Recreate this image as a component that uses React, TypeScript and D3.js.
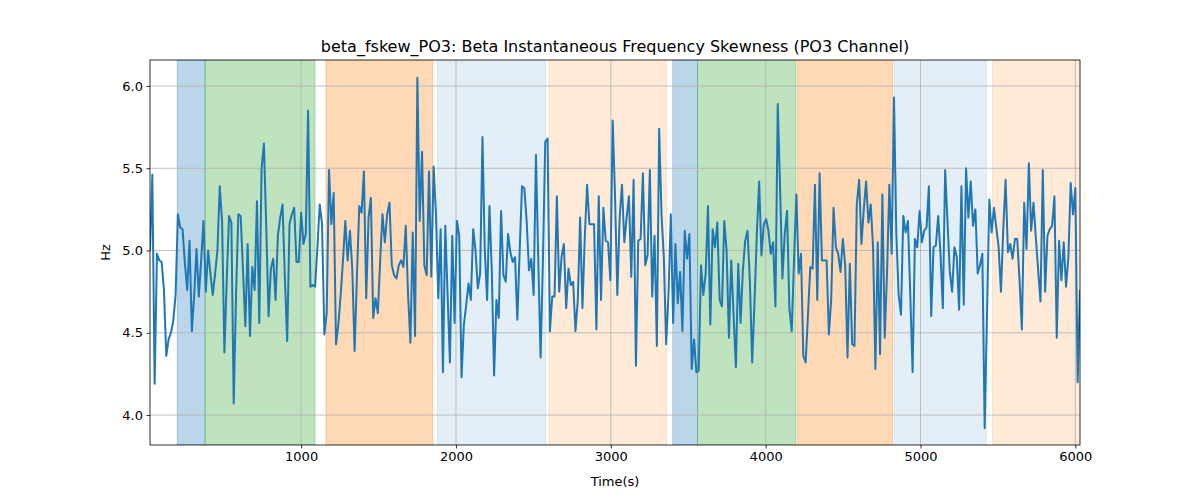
import { useRef, useEffect } from "react";
import * as d3 from "d3";

const values: number[] = [
  5.00, 5.46, 4.19, 4.98, 4.94, 4.93, 4.76, 4.36, 4.46, 4.50, 4.57, 4.73, 5.22, 5.14, 5.13, 4.92,
  4.76, 5.06, 4.51, 4.73, 5.01, 4.72, 4.94, 5.18, 4.75, 5.00, 4.86, 4.73, 4.86, 5.00, 5.39, 5.18,
  4.38, 4.82, 5.21, 5.17, 4.07, 4.73, 5.22, 5.21, 4.88, 4.54, 5.04, 4.48, 4.90, 4.76, 5.30, 4.56,
  5.50, 5.65, 5.14, 4.60, 4.89, 4.95, 4.70, 5.09, 5.20, 5.28, 4.84, 4.45, 5.16, 5.22, 5.26, 4.93,
  4.93, 5.23, 5.04, 5.10, 5.85, 4.78, 4.79, 4.78, 5.02, 5.28, 5.16, 4.49, 4.62, 5.49, 5.16, 5.35,
  4.43, 4.55, 4.73, 4.94, 5.18, 4.94, 5.12, 4.89, 4.39, 4.84, 5.27, 5.23, 5.48, 4.71, 5.20, 5.32,
  4.59, 4.71, 4.62, 4.94, 5.22,
  5.05, 5.22, 5.29, 4.91, 4.85, 4.83, 4.91, 4.94, 4.90, 5.15, 4.73, 4.44, 5.11, 4.48, 6.05, 5.18,
  5.60, 4.91, 4.85, 5.48, 4.84, 5.51, 5.22, 4.71, 5.13, 4.26, 5.15, 4.73, 4.32, 5.09, 4.56, 5.18,
  5.09, 4.23, 4.55, 4.67, 4.80, 4.70, 5.13, 5.00, 4.77, 4.86, 5.69, 5.00, 4.70, 5.27, 4.88, 4.24,
  4.70, 4.59, 5.24, 4.85, 4.81, 5.10, 4.99, 4.93, 4.96, 4.58, 5.00, 5.39, 5.38, 5.18, 4.88, 4.95,
  4.73, 5.58, 4.94, 4.35, 4.94, 5.66, 5.68, 4.51, 4.72, 4.72, 5.33, 4.75, 4.96, 5.04, 4.65, 4.89,
  4.79, 4.81, 4.51, 4.70, 5.20, 4.65, 5.08, 5.40, 5.16, 5.16, 5.16, 4.52, 5.33, 4.70, 5.26, 5.06,
  5.05, 4.82, 5.79,
  5.34, 4.73, 5.20, 5.40, 5.05, 5.20, 5.33, 4.84, 5.43, 4.30, 5.06, 5.07, 5.47, 4.91, 4.97, 5.49,
  4.72, 5.09, 4.42, 5.74, 5.22, 4.96, 4.43, 4.73, 5.22, 4.56, 5.04, 4.68, 4.87, 4.51, 5.12, 4.95,
  5.10, 4.28, 4.46, 4.26, 4.27, 4.91, 4.73, 4.86, 5.27, 4.55, 5.13, 5.02, 5.17, 4.70, 4.66, 5.18,
  5.00, 4.47, 4.94, 4.61, 4.29, 4.92, 4.56, 4.88, 5.06, 5.12, 4.82, 4.32, 4.69, 5.10, 5.42, 4.97,
  5.16, 5.19, 5.12, 4.98, 5.05, 4.66, 5.89, 5.38, 4.83, 5.10, 5.24, 4.65, 4.51, 4.94, 5.34, 4.86,
  4.98, 4.36, 4.32, 4.61, 4.90, 4.89, 5.40, 4.70, 5.47, 4.94, 4.94, 4.94, 4.49, 4.71, 5.26, 5.02,
  4.98, 4.87, 5.07, 4.91, 4.35,
  4.92, 4.43, 4.42, 5.28, 5.43, 5.04, 5.25, 5.42, 5.17, 5.28, 5.02, 4.28, 5.05, 4.37, 5.34, 4.47,
  4.86, 5.40, 4.98, 5.93, 5.10, 4.73, 4.61, 5.21, 5.11, 5.18, 4.73, 4.26, 5.07, 5.02, 5.24, 5.05,
  5.12, 5.14, 5.39, 4.60, 5.02, 5.03, 5.21, 4.98, 4.65, 5.49, 5.18, 4.87, 4.75, 5.02, 4.96, 4.64,
  5.39, 4.67, 5.50, 5.20, 5.42, 5.15, 5.25, 4.86, 4.91, 4.98, 3.92, 4.61, 5.31, 5.11, 5.26, 5.14,
  5.02, 4.75, 5.13, 5.43, 4.99, 5.04, 4.95, 5.07, 5.07, 4.82, 4.52, 5.29, 5.01, 5.53, 5.12, 5.29,
  5.08, 4.88, 4.69, 5.49, 4.75, 5.09, 5.13, 5.15, 5.33, 4.47, 5.06, 4.82, 5.05, 4.78, 4.96, 5.41,
  5.22, 5.38, 4.20, 4.76,
];

const tStart = 24;
const tEnd = 6030;

const bandStarts = [200, 380, 1160, 1880, 2600, 3400, 3560, 4205, 4830, 5465];
const bandEnds = [380, 1090, 1850, 2580, 3360, 3560, 4195, 4820, 5425, 6035];
const bandColors = [
  "rgba(31,119,180,0.3)", "rgba(44,160,44,0.3)", "rgba(255,127,14,0.3)", "rgba(31,119,180,0.12)",
  "rgba(255,127,14,0.16)", "rgba(31,119,180,0.3)", "rgba(44,160,44,0.3)", "rgba(255,127,14,0.3)",
  "rgba(31,119,180,0.12)", "rgba(255,127,14,0.16)",
];

const xTicks = [1000, 2000, 3000, 4000, 5000, 6000];
const yTicks = [4.0, 4.5, 5.0, 5.5, 6.0];

const W = 1200, H = 500;
const m = { left: 150, right: 1080, top: 60, bottom: 445 };
const FONT = "DejaVu Sans, sans-serif";

export default function App() {
  const ref = useRef<SVGSVGElement>(null);

  useEffect(() => {
    document.body.style.margin = "0";
    const svg = d3.select(ref.current!);
    svg.selectAll("*").remove();

    const step = (tEnd - tStart) / (values.length - 1);
    const pts = values.map((v, i) => [tStart + i * step, v] as [number, number]);

    const x = d3.scaleLinear().domain([tStart, tEnd]).range([m.left, m.right]);
    const y = d3.scaleLinear().domain([3.818, 6.158]).range([m.bottom, m.top]);

    svg.append("defs").append("clipPath").attr("id", "clip")
      .append("rect").attr("x", m.left).attr("y", m.top)
      .attr("width", m.right - m.left).attr("height", m.bottom - m.top);

    const plot = svg.append("g").attr("clip-path", "url(#clip)");

    plot.selectAll("rect.band")
      .data(bandStarts.map((s, i) => ({ s, e: bandEnds[i], c: bandColors[i] })))
      .join("rect")
      .attr("x", (d) => x(d.s))
      .attr("width", (d) => x(d.e) - x(d.s))
      .attr("y", m.top)
      .attr("height", m.bottom - m.top)
      .attr("fill", (d) => d.c)
      .attr("stroke", (d) => d.c)
      .attr("stroke-width", 1);

    // grid
    plot.selectAll("line.gx").data(xTicks).join("line")
      .attr("x1", (d) => x(d)).attr("x2", (d) => x(d))
      .attr("y1", m.top).attr("y2", m.bottom)
      .attr("stroke", "#b0b0b0").attr("stroke-width", 0.8);
    plot.selectAll("line.gy").data(yTicks).join("line")
      .attr("y1", (d) => y(d)).attr("y2", (d) => y(d))
      .attr("x1", m.left).attr("x2", m.right)
      .attr("stroke", "#b0b0b0").attr("stroke-width", 0.8);

    plot.append("path")
      .attr("d", d3.line().x((d) => x(d[0])).y((d) => y(d[1]))(pts) ?? "")
      .attr("fill", "none").attr("stroke", "#1f77b4").attr("stroke-width", 2)
      .attr("stroke-linejoin", "round");

    const xAxis = svg.append("g").attr("transform", `translate(0,${m.bottom})`)
      .call(d3.axisBottom(x).tickValues(xTicks).tickFormat(d3.format("d")).tickSizeOuter(0).tickSize(3.5).tickPadding(3.5));
    const yAxis = svg.append("g").attr("transform", `translate(${m.left},0)`)
      .call(d3.axisLeft(y).tickValues(yTicks).tickFormat(d3.format(".1f")).tickSizeOuter(0).tickSize(3.5).tickPadding(3.5));
    for (const a of [xAxis, yAxis]) {
      a.select(".domain").remove();
      a.selectAll("text").attr("font-family", FONT).attr("font-size", 13).attr("fill", "#000");
      a.selectAll("line").attr("stroke", "#000").attr("stroke-width", 0.8);
    }

    svg.append("rect").attr("x", m.left).attr("y", m.top)
      .attr("width", m.right - m.left).attr("height", m.bottom - m.top)
      .attr("fill", "none").attr("stroke", "#000").attr("stroke-width", 0.8);

    svg.append("text").attr("x", (m.left + m.right) / 2).attr("y", 52)
      .attr("text-anchor", "middle").attr("font-family", FONT).attr("font-size", 16)
      .text("beta_fskew_PO3: Beta Instantaneous Frequency Skewness (PO3 Channel)");
    svg.append("text").attr("x", (m.left + m.right) / 2).attr("y", 486)
      .attr("text-anchor", "middle").attr("font-family", FONT).attr("font-size", 13)
      .text("Time(s)");
    svg.append("text").attr("transform", `translate(110,${(m.top + m.bottom) / 2}) rotate(-90)`)
      .attr("text-anchor", "middle").attr("font-family", FONT).attr("font-size", 13)
      .text("Hz");
  }, []);

  return <svg ref={ref} width={W} height={H} style={{ display: "block" }} />;
}
